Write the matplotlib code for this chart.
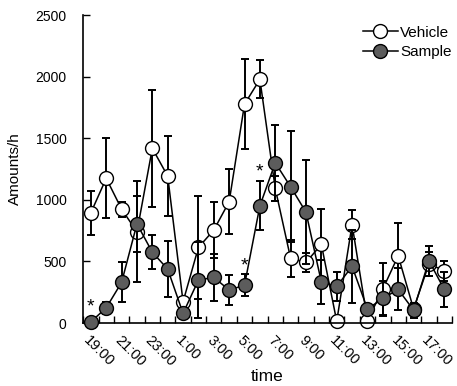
import matplotlib
matplotlib.use("Agg")
import matplotlib.pyplot as plt
from matplotlib.lines import Line2D
import numpy as np

plt.rcParams['font.family'] = ['Liberation Sans', 'DejaVu Sans']

hours = ['19:00', '20:00', '21:00', '22:00', '23:00', '0:00', '1:00', '2:00',
         '3:00', '4:00', '5:00', '6:00', '7:00', '8:00', '9:00', '10:00',
         '11:00', '12:00', '13:00', '14:00', '15:00', '16:00', '17:00', '18:00']

vehicle = [895, 1175, 925, 740, 1418, 1193, 173, 614, 755, 985, 1777, 1978,
           1093, 525, 492, 639, 15, 800, 20, 276, 546, 115, 480, 425]
vehicle_se = [178, 325, 60, 410, 475, 325, 40, 415, 230, 265, 365, 155,
              100, 150, 80, 290, 30, 120, 30, 210, 263, 40, 100, 80]

sample = [10, 124, 330, 805, 575, 438, 79, 349, 371, 268, 308, 952,
          1301, 1106, 900, 333, 298, 460, 114, 200, 273, 105, 506, 273]
sample_se = [10, 50, 162, 230, 140, 230, 40, 310, 190, 120, 90, 200,
             310, 450, 420, 175, 115, 295, 40, 140, 170, 60, 120, 140]

# significance marks: (index, y position)
stars = [(0, 130), (10, 460), (11, 1225)]

x = np.arange(len(hours))

fig = plt.figure(figsize=(4.57, 3.86), dpi=100)
ax = fig.add_axes([0.182, 0.163, 0.807, 0.798])

ax.errorbar(x, vehicle, yerr=vehicle_se, fmt='-o', color='black', mfc='white',
            mec='black', ms=10, lw=1.1, elinewidth=1.4, capsize=3, capthick=1.4,
            clip_on=False, zorder=2)
ax.errorbar(x, sample, yerr=sample_se, fmt='-o', color='black', mfc='#5c5c5c',
            mec='black', ms=10, lw=1.1, elinewidth=1.4, capsize=3, capthick=1.4,
            clip_on=False, zorder=3)

for i, yv in stars:
    ax.text(i, yv, '*', ha='center', va='center', fontsize=14)

ax.set_xlim(-0.5, 23.5)
ax.set_ylim(0, 2500)
ax.set_yticks(np.arange(0, 2501, 500))

ax.set_xticks(x[::2])
ax.set_xticklabels(hours[::2], rotation=-45, ha='left', rotation_mode='anchor',
                   fontsize=10.5)
ax.set_xticks(np.arange(-0.5, 24, 1), minor=True)
ax.tick_params(axis='x', which='major', length=0, pad=7)
ax.tick_params(axis='x', which='minor', direction='in', length=5, width=1)
ax.tick_params(axis='y', direction='in', length=5, width=1, labelsize=10, pad=12)

ax.spines['top'].set_visible(False)
ax.spines['right'].set_visible(False)
ax.spines['left'].set_linewidth(1.2)
ax.spines['bottom'].set_linewidth(1.2)

ax.set_xlabel('time', fontsize=12.5, labelpad=0)
ax.set_ylabel('Amounts/h', fontsize=11, labelpad=10)

handles = [
    Line2D([], [], color='black', lw=1.1, marker='o', mfc='white', mec='black', ms=10),
    Line2D([], [], color='black', lw=1.1, marker='o', mfc='#5c5c5c', mec='black', ms=10),
]
ax.legend(handles, ['Vehicle', 'Sample'], loc='upper right', frameon=False,
          fontsize=11, handlelength=2.3, handletextpad=0.15, borderaxespad=0.1,
          labelspacing=0.35, bbox_to_anchor=(1.02, 0.99))

fig.savefig('out.png', dpi=100)
